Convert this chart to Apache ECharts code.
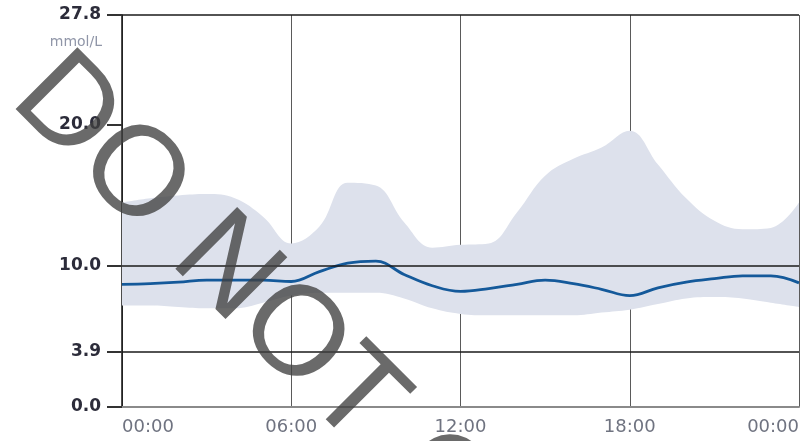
<!DOCTYPE html>
<html>
<head>
<meta charset="utf-8">
<script src="https://cdn.jsdelivr.net/npm/echarts@6/dist/echarts.min.js"></script>
<style>
  html, body { margin: 0; padding: 0; background: #fff; }
  #chart { width: 802px; height: 441px; }
</style>
</head>
<body>
<div id="chart"></div>
<script>
// Hour of day for each profile sample (0 .. 24)
const hours = [0,1,2,3,4,5,6,7,8,9,10,11,12,13,14,15,16,17,18,19,20,21,22,23,24];
// Upper and lower envelope of the glucose range (mmol/L)
const upper = [14.5,14.8,15.0,15.1,14.8,13.5,11.6,12.8,15.9,15.7,13.1,11.3,11.5,11.6,13.8,16.4,17.6,18.4,19.6,17.2,14.8,13.2,12.6,12.7,14.5];
const lower = [7.2,7.2,7.1,7.0,7.0,7.4,7.9,8.1,8.1,8.1,7.7,7.0,6.6,6.5,6.5,6.5,6.5,6.7,6.9,7.3,7.7,7.8,7.7,7.4,7.1];
// Median glucose curve (mmol/L)
const median = [8.7,8.75,8.85,9.0,9.0,9.0,8.9,9.6,10.2,10.35,9.4,8.6,8.2,8.4,8.7,9.0,8.75,8.35,7.9,8.45,8.85,9.1,9.3,9.3,8.8];
// Axis ticks
const yTicks = [0, 3.9, 10, 20, 27.8];
const rangeLines = [3.9, 10, 27.8];
const labelStep = 6;
const hourLabel = h => String(h % 24).padStart(2, '0') + ':00';

const bandWidth = upper.map((u, i) => +(u - lower[i]).toFixed(2));
const everySix = idx => idx % labelStep === 0;

const chart = echarts.init(document.getElementById('chart'), null, { renderer: 'canvas' });

chart.setOption({
  animation: false,
  backgroundColor: '#ffffff',
  grid: { left: 122, right: 2, top: 15, bottom: 34 },
  xAxis: {
    type: 'category',
    data: hours,
    boundaryGap: false,
    axisLine: { show: true, lineStyle: { color: '#8a8a8a', width: 2 } },
    axisTick: { show: false },
    splitLine: { show: true, interval: everySix, lineStyle: { color: '#5a5a5a', width: 1 } },
    axisLabel: {
      interval: everySix,
      margin: 11,
      fontFamily: 'DejaVu Sans',
      fontSize: 18,
      color: '#6f7380',
      alignMinLabel: 'left',
      alignMaxLabel: 'right',
      formatter: v => hourLabel(+v)
    }
  },
  yAxis: {
    type: 'value',
    min: 0,
    max: 27.8,
    name: 'mmol/L',
    nameLocation: 'end',
    nameGap: -34,
    nameTextStyle: {
      fontFamily: 'DejaVu Sans',
      fontSize: 14,
      color: '#9096a8',
      align: 'right',
      padding: [0, 20, 0, 0]
    },
    axisLine: { show: true, lineStyle: { color: '#111', width: 1.5 } },
    axisTick: {
      show: true,
      length: 15,
      customValues: yTicks,
      lineStyle: { color: '#333', width: 2 }
    },
    splitLine: { show: false },
    axisLabel: {
      margin: 21,
      fontFamily: 'DejaVu Sans',
      fontWeight: 'bold',
      fontSize: 17,
      color: '#2c2c3a',
      customValues: yTicks,
      formatter: v => v.toFixed(1)
    }
  },
  graphic: [{
    type: 'text',
    x: 33,
    y: 77,
    rotation: -Math.PI / 4,
    z: 100,
    silent: true,
    style: {
      text: 'DO NOT COPY',
      font: '127px "Liberation Sans"',
      fill: 'rgba(64,64,64,0.78)',
      textAlign: 'left',
      textVerticalAlign: 'middle'
    }
  }],
  series: [
    {
      name: 'lower',
      type: 'line',
      stack: 'band',
      data: lower,
      smooth: 0.4,
      symbol: 'none',
      lineStyle: { opacity: 0 },
      silent: true
    },
    {
      name: 'range',
      type: 'line',
      stack: 'band',
      data: bandWidth,
      smooth: 0.4,
      symbol: 'none',
      lineStyle: { opacity: 0 },
      areaStyle: { color: '#dde1ec', opacity: 1 },
      silent: true
    },
    {
      name: 'median',
      type: 'line',
      data: median,
      smooth: 0.4,
      symbol: 'none',
      z: 4,
      lineStyle: { color: '#14599a', width: 2.8 },
      markLine: {
        silent: true,
        symbol: 'none',
        label: { show: false },
        lineStyle: { color: '#1a1a1a', width: 1.5, type: 'solid' },
        data: rangeLines.map(v => ({ yAxis: v }))
      }
    }
  ]
});
</script>
</body>
</html>
